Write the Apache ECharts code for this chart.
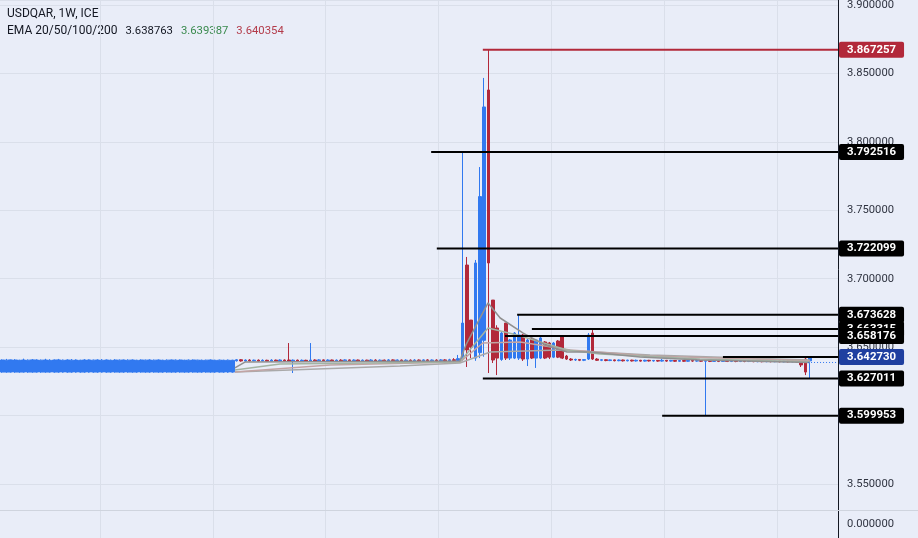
<!DOCTYPE html>
<html><head><meta charset="utf-8">
<script src="https://cdn.jsdelivr.net/npm/echarts@6/dist/echarts.min.js"></script>
<style>html,body{margin:0;padding:0;background:#e9edf8;}#c{width:918px;height:538px;}</style>
</head><body><div id="c"></div>
<script>
// ---- DATA (weekly candles: [open, close, low, high]) ----
const categoryCount = 193;
const categories = Array.from({length: categoryCount}, (_, i) => 'W' + (i + 1));

const blockCandles = [
[3.6318,3.6406,3.6313,3.6410],[3.6318,3.6405,3.6313,3.6414],[3.6318,3.6407,3.6314,3.6409],[3.6318,3.6406,3.6313,3.6412],
[3.6318,3.6404,3.6313,3.6408],[3.6318,3.6406,3.6314,3.6416],[3.6318,3.6405,3.6313,3.6410],[3.6318,3.6407,3.6313,3.6413],
[3.6318,3.6406,3.6314,3.6411],[3.6318,3.6405,3.6313,3.6409],[3.6318,3.6406,3.6313,3.6415],[3.6318,3.6404,3.6314,3.6412],
[3.6318,3.6406,3.6313,3.6410],[3.6318,3.6407,3.6313,3.6414],[3.6318,3.6405,3.6314,3.6409],[3.6318,3.6406,3.6313,3.6411],
[3.6318,3.6405,3.6313,3.6413],[3.6318,3.6406,3.6314,3.6410],[3.6318,3.6404,3.6313,3.6408],[3.6318,3.6406,3.6313,3.6412],
[3.6318,3.6407,3.6314,3.6410],[3.6318,3.6405,3.6313,3.6409],[3.6318,3.6406,3.6313,3.6411],[3.6318,3.6405,3.6314,3.6413],
[3.6318,3.6406,3.6313,3.6410],[3.6318,3.6404,3.6313,3.6409],[3.6318,3.6406,3.6314,3.6412],[3.6318,3.6405,3.6313,3.6410],
[3.6318,3.6406,3.6313,3.6409],[3.6318,3.6405,3.6314,3.6411],[3.6318,3.6406,3.6313,3.6410],[3.6318,3.6404,3.6313,3.6408],
[3.6318,3.6406,3.6314,3.6410],[3.6318,3.6405,3.6313,3.6409],[3.6318,3.6406,3.6313,3.6411],[3.6318,3.6405,3.6314,3.6409],
[3.6318,3.6406,3.6313,3.6410],[3.6318,3.6404,3.6313,3.6408],[3.6318,3.6405,3.6314,3.6410],[3.6318,3.6406,3.6313,3.6409],
[3.6318,3.6405,3.6313,3.6410],[3.6318,3.6406,3.6314,3.6409],[3.6318,3.6404,3.6313,3.6408],[3.6318,3.6405,3.6313,3.6410],
[3.6318,3.6406,3.6314,3.6409],[3.6318,3.6405,3.6313,3.6408],[3.6318,3.6404,3.6313,3.6409],[3.6318,3.6405,3.6314,3.6408],
[3.6318,3.6406,3.6313,3.6410],[3.6318,3.6404,3.6313,3.6408],[3.6318,3.6405,3.6314,3.6409],[3.6318,3.6404,3.6313,3.6408],
[3.6318,3.6405,3.6313,3.6409],[3.6318,3.6404,3.6313,3.6408]
];

const flatCandlesA = [
[3.6400,3.6408,3.6395,3.6413],[3.6408,3.6399,3.6394,3.6413],[3.6399,3.6406,3.6392,3.6410],[3.6406,3.6400,3.6395,3.6412],
[3.6400,3.6405,3.6396,3.6409],[3.6405,3.6398,3.6393,3.6410],[3.6398,3.6404,3.6394,3.6411],[3.6404,3.6397,3.6392,3.6408],
[3.6397,3.6405,3.6393,3.6412],[3.6405,3.6399,3.6395,3.6409],[3.6399,3.6406,3.6394,3.6411],[3.6406,3.6400,3.6396,3.6410],
[3.6406,3.6399,3.6392,3.6530],[3.6399,3.6405,3.6311,3.6410],[3.6405,3.6398,3.6394,3.6409],[3.6398,3.6404,3.6393,3.6410],
[3.6404,3.6399,3.6395,3.6408],[3.6399,3.6406,3.6394,3.6530],[3.6406,3.6400,3.6396,3.6411],[3.6400,3.6407,3.6395,3.6412],
[3.6407,3.6401,3.6396,3.6410],[3.6401,3.6406,3.6395,3.6411],[3.6406,3.6399,3.6394,3.6409],[3.6399,3.6405,3.6393,3.6410],
[3.6405,3.6400,3.6395,3.6412],[3.6400,3.6407,3.6396,3.6411],[3.6407,3.6400,3.6395,3.6410],[3.6400,3.6406,3.6394,3.6411],
[3.6406,3.6399,3.6393,3.6409],[3.6399,3.6405,3.6395,3.6410],[3.6405,3.6398,3.6392,3.6408],[3.6398,3.6406,3.6394,3.6412],
[3.6406,3.6400,3.6396,3.6411],[3.6400,3.6405,3.6395,3.6410],[3.6405,3.6399,3.6394,3.6409],[3.6399,3.6407,3.6393,3.6413],
[3.6407,3.6401,3.6396,3.6411],[3.6401,3.6406,3.6395,3.6410],[3.6406,3.6399,3.6394,3.6409],[3.6399,3.6405,3.6393,3.6411],
[3.6405,3.6400,3.6395,3.6410],[3.6400,3.6406,3.6394,3.6412],[3.6406,3.6399,3.6393,3.6410],[3.6399,3.6407,3.6395,3.6411],
[3.6407,3.6400,3.6396,3.6412],[3.6400,3.6406,3.6394,3.6410],[3.6406,3.6401,3.6395,3.6411],[3.6401,3.6407,3.6396,3.6413],
[3.6407,3.6400,3.6394,3.6412],[3.6400,3.6408,3.6395,3.6415],[3.6408,3.6402,3.6396,3.6420],[3.6402,3.6416,3.6398,3.6443]
];

const spikeCandles = [
[3.6413,3.6676,3.6399,3.792516],[3.7100,3.6480,3.6355,3.7159],[3.6698,3.6500,3.6420,3.6698],[3.6420,3.7115,3.6400,3.7137],
[3.6460,3.7600,3.6420,3.7816],[3.6550,3.8255,3.6430,3.8467],[3.8379,3.7115,3.6311,3.867257],[3.6844,3.6406,3.6384,3.6844],
[3.6640,3.6420,3.6296,3.6660],[3.6410,3.6603,3.6400,3.6610],[3.6676,3.6420,3.6406,3.6676],[3.6420,3.6552,3.6406,3.6560],
[3.6420,3.6603,3.6413,3.6610],[3.6420,3.6589,3.6406,3.673628],[3.6589,3.6413,3.6399,3.6596],[3.6413,3.6552,3.6362,3.6560],
[3.6560,3.6420,3.6413,3.6567],[3.6420,3.6552,3.6348,3.6560],[3.6420,3.6567,3.6413,3.6574],[3.6538,3.6420,3.6413,3.6545],
[3.6530,3.6427,3.6413,3.6538],[3.6427,3.6530,3.6420,3.6538],[3.6545,3.6427,3.6420,3.6552],[3.6574,3.6420,3.6413,3.6581],
[3.6435,3.6413,3.6406,3.6443],[3.6413,3.6406,3.6399,3.6420],[3.6406,3.6410,3.6399,3.6416],[3.6410,3.6404,3.6398,3.6413],
[3.6404,3.6409,3.6398,3.6413],[3.6413,3.6589,3.6406,3.6603],[3.6603,3.6413,3.6406,3.6633]
];

const flatCandlesB = [
[3.6413,3.6404,3.6399,3.6420],[3.6404,3.6408,3.6398,3.6412],[3.6408,3.6402,3.6397,3.6411],[3.6402,3.6407,3.6398,3.6410],
[3.6407,3.6401,3.6396,3.6409],[3.6401,3.6406,3.6397,3.6410],[3.6406,3.6400,3.6395,3.6409],[3.6400,3.6405,3.6396,3.6408],
[3.6405,3.6399,3.6395,3.6408],[3.6399,3.6404,3.6395,3.6409],[3.6404,3.6398,3.6394,3.6407],[3.6398,3.6404,3.6394,3.6408],
[3.6404,3.6399,3.6395,3.6407],[3.6399,3.6403,3.6394,3.6406],[3.6403,3.6398,3.6393,3.6406],[3.6398,3.6404,3.6394,3.6413],
[3.6404,3.6398,3.6393,3.6406],[3.6398,3.6403,3.6394,3.6407],[3.6403,3.6397,3.6392,3.6406],[3.6397,3.6402,3.6393,3.6405],
[3.6402,3.6397,3.6392,3.6405],[3.6397,3.6403,3.6393,3.6406],[3.6403,3.6398,3.6392,3.6405],[3.6398,3.6402,3.6393,3.6413],
[3.6402,3.6397,3.6392,3.6405],[3.6397,3.6402,3.599953,3.6405],[3.6402,3.6396,3.6391,3.6404],[3.6396,3.6401,3.6392,3.6404],
[3.6401,3.6396,3.6391,3.6404],[3.6396,3.6401,3.6392,3.6404],[3.6401,3.6396,3.6391,3.6403],[3.6396,3.6400,3.6391,3.6403],
[3.6400,3.6395,3.6390,3.6403],[3.6395,3.6400,3.6391,3.6403],[3.6400,3.6395,3.6390,3.6402],[3.6395,3.6399,3.6391,3.6402],
[3.6399,3.6394,3.6390,3.6402],[3.6394,3.6399,3.6390,3.6402],[3.6399,3.6394,3.6389,3.6401],[3.6394,3.6399,3.6390,3.6401],
[3.6399,3.6394,3.6389,3.6401],[3.6394,3.6398,3.6390,3.6401],[3.6398,3.6393,3.6389,3.6400],[3.6393,3.6398,3.6389,3.6400],
[3.6398,3.6393,3.6388,3.6400],[3.6393,3.6398,3.6389,3.6400],[3.6398,3.6393,3.6388,3.6400]
];

const tailCandles = [
[3.6400,3.6370,3.6355,3.6406],[3.6413,3.6318,3.6296,3.6421],[3.6400,3.64273,3.627011,3.64273]
];

// EMA lines: [week index, value]
const ema20 = [[53.6,3.6348],[55.9,3.6391],[105.4,3.6399],[106.8,3.6516],[111.9,3.6823],[114.7,3.6713],[120,3.6603],[125,3.6516],[130.1,3.6465],[135.4,3.6465],[146.9,3.6428],[160.7,3.6406],[186,3.6388]];
const ema50 = [[53.6,3.6333],[64,3.6377],[105.4,3.6391],[111.9,3.6640],[118.6,3.6589],[130.1,3.6479],[137.7,3.6450],[160.7,3.6413],[186,3.6394]];
const ema100 = [[53.6,3.6318],[75.5,3.6370],[105.4,3.6391],[110.7,3.6530],[119.3,3.6538],[130.8,3.6479],[149.2,3.6435],[186,3.6400]];
const ema200 = [[53.6,3.6318],[91.6,3.6362],[105.4,3.6384],[112.4,3.6465],[128.5,3.6479],[149.2,3.6443],[186,3.6406]];

// Horizontal rays: level, start (week index)
const rayLevels = [3.663315, 3.867257, 3.792516, 3.722099, 3.673628, 3.658176, 3.627011, 3.599953, 3.642730];
const rayStarts = [122.0, 110.7, 98.8, 100.1, 118.6, 115.8, 110.7, 152.0, 166.0];
const rayKinds  = ['k', 'r', 'k', 'k', 'k', 'k', 'k', 'k', 'b'];
const lastPriceLine = [[185.6, 3.6388], [192.5, 3.6388]];

const legendTitle = 'USDQAR, 1W, ICE';
const emaLegendName = 'EMA 20/50/100/200';
const emaLegendValues = ['3.638763', '3.639387', '3.640354'];

// ---- CHART ----
const UP = '#3179f0', DOWN = '#b2283a', RED = '#b2283a', BLUE_LBL = '#1f3fa0';
const FONT = 'Roboto';
const mainCandles = [].concat(flatCandlesA, spikeCandles, flatCandlesB, tailCandles);
const blockData = blockCandles.concat(Array(categoryCount - blockCandles.length).fill('-'));
const mainData = Array(blockCandles.length).fill('-').concat(mainCandles);
while (mainData.length < categoryCount) mainData.push('-');

const splitFn = (i) => i >= 23 && (i - 23) % 26 === 0;
const chart = echarts.init(document.getElementById('c'), null, {renderer: 'canvas'});

const series = [
  {type: 'candlestick', data: blockData, barWidth: 4.4, xAxisIndex: 0, yAxisIndex: 0,
   itemStyle: {color: UP, color0: DOWN, borderColor: UP, borderColor0: DOWN, borderWidth: 1}},
  {type: 'candlestick', data: mainData, barWidth: 3.1, xAxisIndex: 0, yAxisIndex: 0,
   itemStyle: {color: UP, color0: DOWN, borderColor: UP, borderColor0: DOWN, borderWidth: 1}}
];
[[ema200, '#a9a9a9'], [ema100, '#c2a4a4'], [ema50, '#a3b3a3'], [ema20, '#909090']].forEach(([d, c]) => {
  series.push({type: 'line', xAxisIndex: 1, yAxisIndex: 0, data: d, symbol: 'none', silent: true,
    lineStyle: {color: c, width: 1.5}, z: 3});
});
series.push({type: 'line', xAxisIndex: 1, yAxisIndex: 0, data: lastPriceLine, symbol: 'none', silent: true,
  lineStyle: {color: UP, width: 1, type: [1, 2]}, z: 3});
rayLevels.forEach((v, k) => {
  const kind = rayKinds[k];
  const lineColor = kind === 'r' ? RED : '#000';
  const boxColor = kind === 'r' ? RED : (kind === 'b' ? BLUE_LBL : '#000');
  series.push({type: 'line', xAxisIndex: 1, yAxisIndex: 0, symbol: 'none', silent: true, z: 4,
    data: [[rayStarts[k], v], [192.5, v]],
    lineStyle: {color: lineColor, width: 2},
    endLabel: {show: true, formatter: () => v.toFixed(6), color: '#fff', fontWeight: 'bold',
      fontFamily: FONT, fontSize: 11.4, backgroundColor: boxColor, padding: [3, 8, 2, 8],
      borderRadius: 2, distance: 1}
  });
});

chart.setOption({
  animation: false,
  backgroundColor: '#e9edf8',
  grid: [
    {left: 0, top: 0, width: 838, height: 552.44, containLabel: false, outerBoundsMode: 'none'},
    {left: 0, top: 511, width: 838, height: 27, containLabel: false, outerBoundsMode: 'none'}
  ],
  xAxis: [
    {type: 'category', gridIndex: 0, data: categories, axisLine: {show: false}, axisTick: {show: false},
     axisLabel: {show: false}, splitLine: {show: true, interval: splitFn, lineStyle: {color: '#dadfea'}}},
    {type: 'value', gridIndex: 0, min: -0.5, max: 192.5, show: false},
    {type: 'category', gridIndex: 1, data: categories, position: 'top',
     axisLine: {show: false}, axisTick: {show: false},
     axisLabel: {show: false}, splitLine: {show: true, interval: splitFn, lineStyle: {color: '#dadfea'}}}
  ],
  yAxis: [
    {type: 'value', gridIndex: 0, position: 'right', min: 3.5, max: 3.903653, interval: 0.05,
     axisLine: {show: true, onZero: false, lineStyle: {color: '#131722'}}, axisTick: {show: false},
     axisLabel: {showMaxLabel: false, showMinLabel: false, formatter: v => v.toFixed(6),
       color: '#2f3340', fontFamily: FONT, fontSize: 11.2, margin: 9},
     splitLine: {show: true, lineStyle: {color: '#dadfea'}}},
    {type: 'value', gridIndex: 1, position: 'right', min: -1, max: 1, interval: 1,
     axisLine: {show: true, onZero: false, lineStyle: {color: '#131722'}}, axisTick: {show: false},
     axisLabel: {showMaxLabel: false, showMinLabel: false, formatter: v => v.toFixed(6),
       color: '#2f3340', fontFamily: FONT, fontSize: 11.2, margin: 9},
     splitLine: {show: false}}
  ],
  graphic: [
    {type: 'rect', shape: {x: 0, y: 511, width: 838, height: 27}, style: {fill: '#e9edf8'}, silent: true, z: -1},
    {type: 'line', shape: {x1: 0, y1: 510.5, x2: 918, y2: 510.5}, style: {stroke: '#cfd4de', lineWidth: 1}, silent: true, z: 10},
    {type: 'text', left: 7, top: 8, style: {text: legendTitle, font: '12px ' + FONT, fill: '#131722'}},
    {type: 'text', left: 7, top: 25, style: {
      text: '{a|' + emaLegendName + '}{v|' + emaLegendValues[0] + '}{g|' + emaLegendValues[1] + '}{r|' + emaLegendValues[2] + '}',
      rich: {
        a: {fontFamily: FONT, fontSize: 12, fill: '#131722'},
        v: {fontFamily: FONT, fontSize: 11.3, fill: '#131722', padding: [0, 0, 0, 8]},
        g: {fontFamily: FONT, fontSize: 11.3, fill: '#3a8a4e', padding: [0, 0, 0, 8]},
        r: {fontFamily: FONT, fontSize: 11.3, fill: '#b33b4a', padding: [0, 0, 0, 8]}
      }}}
  ],
  series: series
});
</script>
</body></html>
